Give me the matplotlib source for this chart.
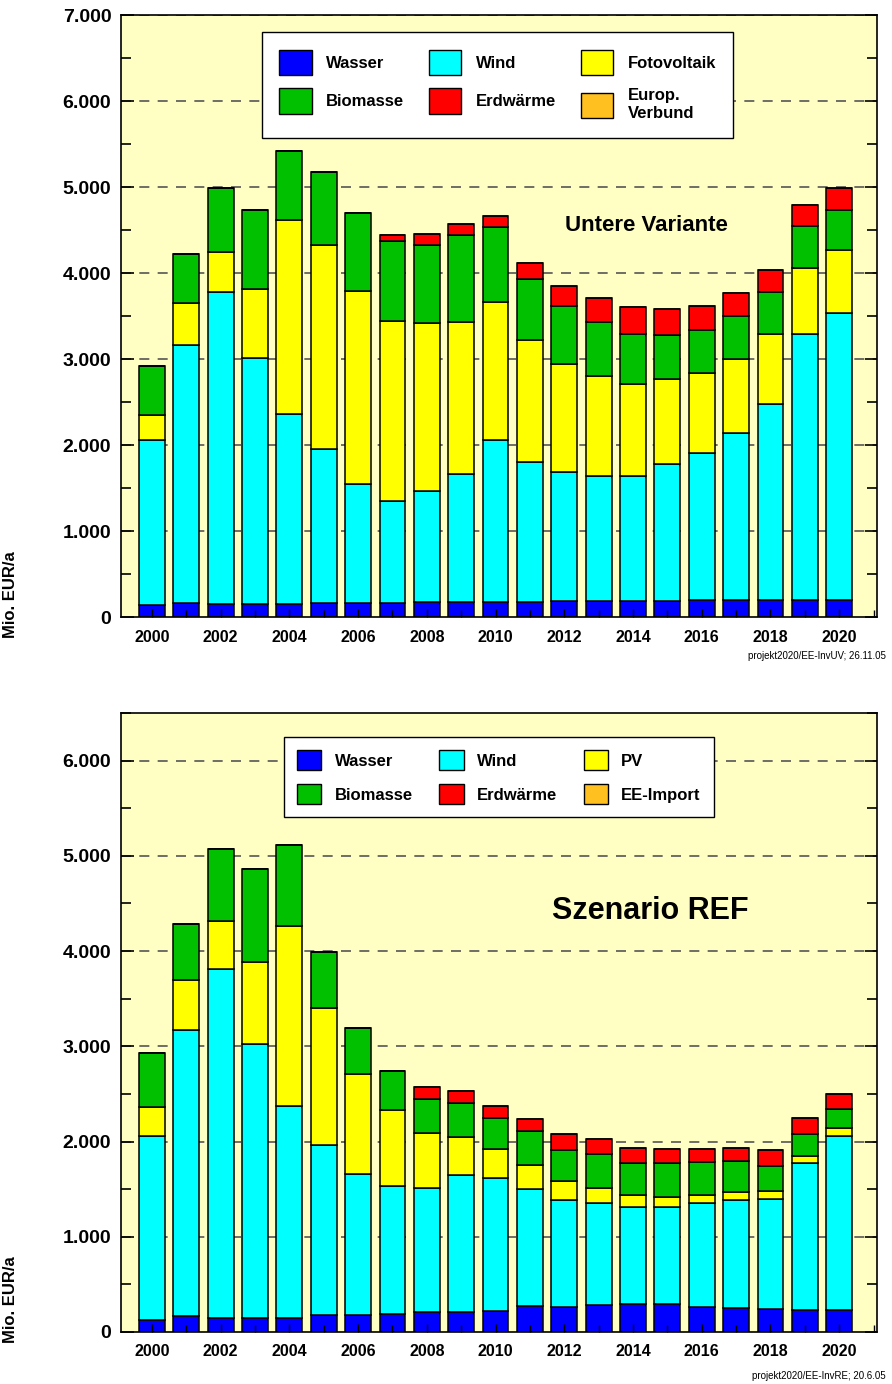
import numpy as np
import matplotlib
matplotlib.use("Agg")
import matplotlib.pyplot as plt
from matplotlib.patches import Patch
from matplotlib.ticker import FuncFormatter, MultipleLocator

plt.rcParams['font.family'] = ['Liberation Sans', 'DejaVu Sans']

years = list(range(2000, 2021))

# Untere Variante (Mio. EUR/a)
uv_wasser = [136, 163, 152, 152, 152, 160, 163, 167, 171, 175, 179, 175, 183, 187, 190, 190, 194, 194, 194, 198, 198]
uv_wind = [1922, 2997, 3626, 2860, 2214, 1793, 1378, 1179, 1296, 1486, 1883, 1624, 1508, 1457, 1446, 1586, 1710, 1940, 2282, 3090, 3339]
uv_pv = [288, 490, 471, 801, 2253, 2378, 2249, 2101, 1953, 1771, 1599, 1423, 1255, 1158, 1077, 995, 933, 866, 816, 773, 734]
uv_bio = [568, 576, 743, 915, 805, 840, 907, 923, 903, 1008, 872, 711, 676, 630, 575, 505, 502, 498, 490, 482, 467]
uv_erd = [0, 0, 0, 0, 0, 0, 0, 70, 136, 128, 128, 187, 230, 276, 315, 303, 283, 268, 256, 249, 245]
uv_import = [0] * 21

# Szenario REF
ref_wasser = [130, 165, 151, 151, 151, 182, 182, 189, 211, 214, 223, 270, 267, 288, 291, 291, 267, 253, 246, 235, 232]
ref_wind = [1923, 3010, 3663, 2870, 2217, 1783, 1478, 1341, 1298, 1435, 1395, 1235, 1119, 1063, 1018, 1021, 1084, 1136, 1150, 1540, 1831]
ref_pv = [305, 520, 502, 867, 1895, 1442, 1049, 800, 579, 400, 300, 246, 200, 161, 126, 102, 91, 85, 81, 78, 74]
ref_bio = [568, 593, 761, 979, 856, 582, 480, 410, 354, 351, 331, 361, 326, 355, 344, 358, 344, 322, 263, 228, 207]
ref_erd = [0, 0, 0, 0, 0, 0, 0, 0, 133, 133, 125, 120, 172, 161, 158, 154, 140, 134, 176, 168, 158]
ref_import = [0] * 21

colors = ['#0000FF', '#00FFFF', '#FFFF00', '#00C000', '#FF0000', '#FFC020']
bg = '#FFFFC4'

fig = plt.figure(figsize=(8.92, 13.84), dpi=100)


def draw(ax, series, labels, ymax, ytop, text, text_size, text_pos, leg_anchor, leg_opts):
	ax.set_facecolor(bg)
	x = np.array(years)
	bottom = np.zeros(len(years))
	for vals, c in zip(series, colors):
		vals = np.array(vals, dtype=float)
		ax.bar(x, vals, bottom=bottom, width=0.75, color=c, edgecolor='black', linewidth=1.1, zorder=1)
		bottom += vals
	for yv in range(1000, ymax + 1, 1000):
		ax.axhline(yv, color='#555555', linestyle=(0, (6, 5)), linewidth=1.2, zorder=0.5)
	ax.set_xlim(1999.1, 2021.1)
	ax.set_ylim(0, ytop)
	ax.xaxis.set_major_locator(MultipleLocator(2))
	ax.xaxis.set_minor_locator(MultipleLocator(1))
	ax.yaxis.set_major_locator(MultipleLocator(1000))
	ax.yaxis.set_minor_locator(MultipleLocator(500))
	ax.yaxis.set_major_formatter(FuncFormatter(lambda v, p: '{:,}'.format(int(v)).replace(',', '.')))
	ax.tick_params(axis='y', which='both', direction='in', right=True, labelsize=14, width=1.2, pad=7)
	ax.tick_params(axis='y', which='major', length=9)
	ax.tick_params(axis='y', which='minor', length=7)
	ax.tick_params(axis='x', which='both', direction='in', labelsize=11.5, width=1, pad=9)
	ax.tick_params(axis='x', which='major', length=6)
	ax.tick_params(axis='x', which='minor', length=5)
	for lab in ax.get_xticklabels() + ax.get_yticklabels():
		lab.set_fontweight('bold')
	for s in ax.spines.values():
		s.set_linewidth(1.2)
	ax.text(text_pos[0], text_pos[1], text, fontsize=text_size, fontweight='bold',
		ha='center', va='center', transform=ax.transAxes)
	handles = [Patch(facecolor=c, edgecolor='black', linewidth=1) for c in colors]
	order = [0, 3, 1, 4, 2, 5]
	leg = ax.legend([handles[i] for i in order], [labels[i] for i in order], ncol=3,
		loc='upper center', bbox_to_anchor=leg_anchor, fancybox=False, framealpha=1,
		edgecolor='black', prop={'weight': 'bold', 'size': 12}, **leg_opts)
	leg.get_frame().set_linewidth(1.0)
	leg.set_zorder(5)


ax1 = fig.add_axes([121 / 892, 767 / 1384, 756 / 892, 602 / 1384])
draw(ax1, [uv_wasser, uv_wind, uv_pv, uv_bio, uv_erd, uv_import],
	['Wasser', 'Wind', 'Fotovoltaik', 'Biomasse', 'Erdwärme', 'Europ.\nVerbund'],
	7000, 7000, 'Untere Variante', 16, (0.695, 0.65), (0.498, 0.985),
	dict(handlelength=1.95, handleheight=1.95, handletextpad=0.85, labelspacing=0.8,
		columnspacing=1.5, borderpad=1.05))

ax2 = fig.add_axes([121 / 892, 52 / 1384, 756 / 892, 619 / 1384])
draw(ax2, [ref_wasser, ref_wind, ref_pv, ref_bio, ref_erd, ref_import],
	['Wasser', 'Wind', 'PV', 'Biomasse', 'Erdwärme', 'EE-Import'],
	6000, 6500, 'Szenario REF', 22, (0.70, 0.68), (0.50, 0.975),
	dict(handlelength=1.45, handleheight=1.45, handletextpad=0.8, labelspacing=0.85,
		columnspacing=1.6, borderpad=0.8))

fig.text(886 / 892, 1 - 656 / 1384, 'projekt2020/EE-InvUV; 26.11.05', fontsize=7, ha='right', va='center')
fig.text(886 / 892, 1 - 1376 / 1384, 'projekt2020/EE-InvRE; 20.6.05', fontsize=7, ha='right', va='center')

fig.text(11 / 892, 1 - 595 / 1384, 'Mio. EUR/a', rotation=90, fontsize=12, fontweight='bold', ha='center', va='center')
fig.text(11 / 892, 1 - 1300 / 1384, 'Mio. EUR/a', rotation=90, fontsize=12, fontweight='bold', ha='center', va='center')

fig.savefig('out.png', dpi=100, facecolor='white')
